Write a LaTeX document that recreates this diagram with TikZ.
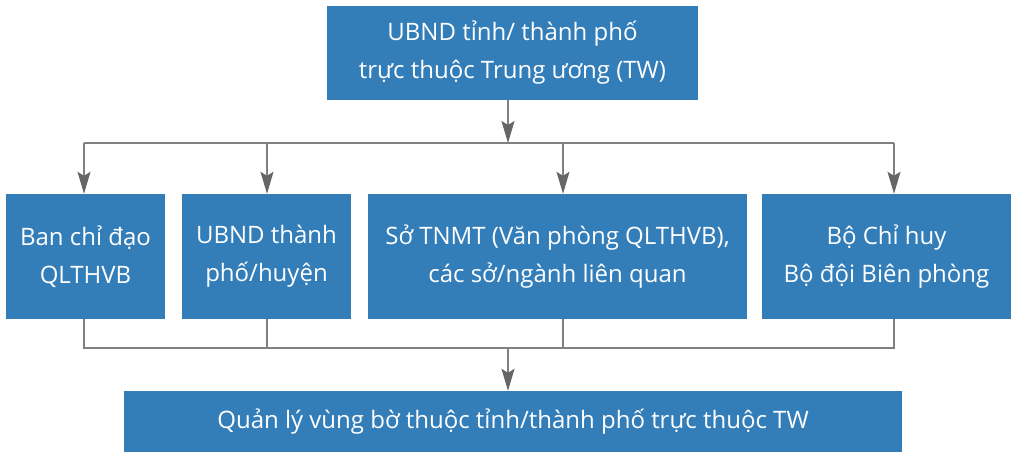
\documentclass[tikz,border=0pt]{standalone}
\usepackage{fontspec}
\setmainfont{Open Sans}
\usepackage{tikz}
\usetikzlibrary{arrows.meta}

\definecolor{boxblue}{HTML}{337EB9}
\definecolor{linegray}{HTML}{808080}
\definecolor{tipgray}{HTML}{666666}

\tikzset{
  unitbox/.style={fill=boxblue, text=white, align=center, inner sep=0pt,
    font=\fontsize{24}{38}\selectfont},
  link/.style={draw=linegray, line width=1.5pt},
  linkarrow/.style={link, -{Stealth[length=22pt, width=13pt, inset=4pt, color=tipgray]}}
}

\begin{document}
\begin{tikzpicture}[x=1pt, y=-1pt]

    \useasboundingbox (0,0) rectangle (1017,451);

    \node[unitbox, minimum width=371pt, minimum height=94pt] (top) at (512.5,52.5)
      {UBND tỉnh/ thành phố\\trực thuộc Trung ương (TW)};

    \node[unitbox, minimum width=159pt, minimum height=125pt] (ban) at (85.5,256.5)
      {Ban chỉ đạo\\QLTHVB};

    \node[unitbox, minimum width=169pt, minimum height=125pt] (ubnd) at (266.5,256.5)
      {UBND thành\\phố/huyện};

    \node[unitbox, minimum width=379pt, minimum height=125pt] (so) at (557.5,256.5)
      {Sở TNMT (Văn phòng QLTHVB),\\các sở/ngành liên quan};

    \node[unitbox, minimum width=249pt, minimum height=125pt] (bodoi) at (886.5,256.5)
      {Bộ Chỉ huy\\Bộ đội Biên phòng};

    \node[unitbox, minimum width=778pt, minimum height=62pt] (vung) at (513,422)
      {Quản lý vùng bờ thuộc tỉnh/thành phố trực thuộc TW};

    % upper bus
    \coordinate (topbus) at (508,143);
    \coordinate (busban) at (84,143);
    \coordinate (busubnd) at (267,143);
    \coordinate (busso) at (563,143);
    \coordinate (busbodoi) at (894,143);

    \draw[link] (busban) -- (busbodoi);
    \draw[linkarrow] (top.south -| topbus) -- (topbus);
    \draw[linkarrow] (busban) -- (busban |- ban.north);
    \draw[linkarrow] (busubnd) -- (busubnd |- ubnd.north);
    \draw[linkarrow] (busso) -- (busso |- so.north);
    \draw[linkarrow] (busbodoi) -- (busbodoi |- bodoi.north);

    % lower bus
    \coordinate (lowbus) at (508,348);
    \coordinate (lowban) at (84,348);
    \coordinate (lowubnd) at (267,348);
    \coordinate (lowso) at (563,348);
    \coordinate (lowbodoi) at (894,348);

    \draw[link] (lowban |- ban.south) -- (lowban) -- (lowbodoi) -- (lowbodoi |- bodoi.south);
    \draw[link] (lowubnd |- ubnd.south) -- (lowubnd);
    \draw[link] (lowso |- so.south) -- (lowso);
    \draw[linkarrow] (lowbus) -- (lowbus |- vung.north);

  \end{tikzpicture}
\end{document}
